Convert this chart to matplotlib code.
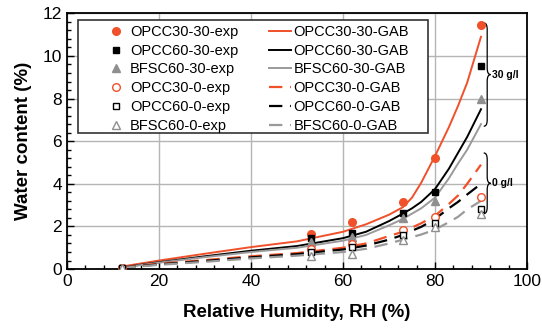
import matplotlib
matplotlib.use('Agg')
import matplotlib.pyplot as plt
from matplotlib.path import Path
from matplotlib.patches import PathPatch, Rectangle
from matplotlib.ticker import MultipleLocator

plt.rcParams['font.family'] = ['Liberation Sans', 'DejaVu Sans']

# measured points (RH %, water content %)
rh_exp = [12, 53, 62, 73, 80, 90]
opcc30_30_exp = [0.05, 1.63, 2.22, 3.13, 5.2, 11.45]
opcc60_30_exp = [0.05, 1.44, 1.67, 2.64, 3.6, 9.53]
bfsc60_30_exp = [0.05, 1.28, 1.49, 2.41, 3.2, 8.0]
opcc30_0_exp = [0.05, 0.94, 1.17, 1.83, 2.43, 3.4]
opcc60_0_exp = [0.05, 0.81, 1.02, 1.6, 2.14, 2.82]
bfsc60_0_exp = [0.05, 0.61, 0.70, 1.35, 1.99, 2.6]

# GAB model curves
rh_gab = [12, 20, 30, 40, 50, 60, 65, 70, 73, 75, 77, 80, 83, 85, 87, 90]
opcc30_30_gab = [0.12, 0.40, 0.72, 1.03, 1.30, 1.75, 2.1, 2.55, 2.9, 3.35, 4.05, 5.3, 6.65, 7.65, 8.75, 10.9]
opcc60_30_gab = [0.08, 0.32, 0.60, 0.86, 1.08, 1.45, 1.75, 2.25, 2.6, 2.85, 3.15, 3.75, 4.7, 5.45, 6.2, 7.5]
bfsc60_30_gab = [0.07, 0.30, 0.56, 0.80, 1.00, 1.33, 1.6, 2.05, 2.35, 2.6, 2.85, 3.35, 4.25, 4.95, 5.6, 6.8]
opcc30_0_gab = [0.08, 0.25, 0.42, 0.60, 0.75, 1.0, 1.2, 1.55, 1.75, 1.95, 2.15, 2.5, 3.05, 3.45, 4.0, 4.9]
opcc60_0_gab = [0.07, 0.22, 0.38, 0.55, 0.70, 0.92, 1.1, 1.38, 1.6, 1.8, 1.98, 2.35, 2.85, 3.15, 3.5, 4.0]
bfsc60_0_gab = [0.06, 0.20, 0.34, 0.50, 0.63, 0.80, 0.95, 1.2, 1.38, 1.5, 1.62, 1.85, 2.2, 2.45, 2.8, 3.2]

orange = '#f0502a'
grey = '#8f8f8f'
grey_line = '#9a9a9a'

fig = plt.figure(figsize=(5.42, 3.33), dpi=100)
ax = fig.add_axes([0.1236, 0.192, 0.8487, 0.768])

ms = 5.5
h = []
h += ax.plot(rh_exp, opcc30_30_exp, 'o', color=orange, ms=ms, label='OPCC30-30-exp', zorder=5)
h += ax.plot(rh_exp, opcc60_30_exp, 's', color='black', ms=ms - 0.5, label='OPCC60-30-exp', zorder=5)
h += ax.plot(rh_exp, bfsc60_30_exp, '^', color=grey, ms=ms, label='BFSC60-30-exp', zorder=5)
h += ax.plot(rh_exp, opcc30_0_exp, 'o', mfc='white', mec=orange, mew=1, ms=ms, label='OPCC30-0-exp', zorder=5)
h += ax.plot(rh_exp, opcc60_0_exp, 's', mfc='white', mec='black', mew=1, ms=ms - 0.5, label='OPCC60-0-exp', zorder=5)
h += ax.plot(rh_exp, bfsc60_0_exp, '^', mfc='white', mec=grey, mew=1, ms=ms, label='BFSC60-0-exp', zorder=5)

lw = 1.4
h += ax.plot(rh_gab, opcc30_30_gab, '-', color=orange, lw=lw, label='OPCC30-30-GAB')
h += ax.plot(rh_gab, opcc60_30_gab, '-', color='black', lw=lw, label='OPCC60-30-GAB')
h += ax.plot(rh_gab, bfsc60_30_gab, '-', color=grey_line, lw=lw, label='BFSC60-30-GAB')
dash = [6, 3.5]
h += ax.plot(rh_gab, opcc30_0_gab, '--', color=orange, lw=1.6, dashes=dash, label='OPCC30-0-GAB')
h += ax.plot(rh_gab, opcc60_0_gab, '--', color='black', lw=1.6, dashes=dash, label='OPCC60-0-GAB')
h += ax.plot(rh_gab, bfsc60_0_gab, '--', color=grey_line, lw=1.6, dashes=dash, label='BFSC60-0-GAB')

ax.set_xlim(0, 100)
ax.set_ylim(0, 12)
ax.xaxis.set_major_locator(MultipleLocator(20))
ax.xaxis.set_minor_locator(MultipleLocator(4))
ax.yaxis.set_major_locator(MultipleLocator(2))
ax.yaxis.set_minor_locator(MultipleLocator(0.4))
ax.tick_params(which='both', direction='in', labelsize=12.5, top=False, right=False)
ax.tick_params(which='major', length=5, width=1)
ax.tick_params(which='minor', length=3, width=1)
ax.grid(True, which='major', color='#b5b5b5', lw=1)
ax.set_axisbelow(True)
for s in ax.spines.values():
    s.set_linewidth(1.3)

ax.set_xlabel('Relative Humidity, RH (%)', fontsize=13.5, fontweight='bold', labelpad=11)
ax.set_ylabel('Water content (%)', fontsize=13.5, fontweight='bold', labelpad=8)

# legend box drawn separately so the entries can sit off-centre inside it
ax.add_patch(Rectangle((0.024, 0.532), 0.761, 0.442, transform=ax.transAxes,
                       fc='white', ec='#333333', lw=1.2, zorder=6))
leg = ax.legend(handles=h, ncol=2, loc='upper left', bbox_to_anchor=(0.083, 0.955),
                fontsize=10.5, frameon=False, handlelength=1.5, handletextpad=0.2,
                labelspacing=0.33, columnspacing=2.1, borderpad=0, borderaxespad=0)
leg.set_zorder(7)


def brace(x0, y1, y2, w=1.5, d=0.3):
    # curly brace opening to the left, tip pointing right
    xm = x0 + w * 0.5
    xt = x0 + w
    ym = (y1 + y2) / 2
    verts = [(x0, y2), (xm, y2), (xm, y2 - d),
             (xm, ym + d),
             (xm, ym), (xt, ym),
             (xm, ym), (xm, ym - d),
             (xm, y1 + d),
             (xm, y1), (x0, y1)]
    codes = [Path.MOVETO, Path.CURVE3, Path.CURVE3,
             Path.LINETO,
             Path.CURVE3, Path.CURVE3,
             Path.CURVE3, Path.CURVE3,
             Path.LINETO,
             Path.CURVE3, Path.CURVE3]
    ax.add_patch(PathPatch(Path(verts, codes), fc='none', ec='black', lw=0.9, clip_on=False))
    return xt, ym


xt, ym = brace(90.6, 6.7, 11.55)
ax.text(xt + 0.3, ym, '30 g/l', fontsize=7.5, fontweight='bold', va='center', ha='left')
xt, ym = brace(90.6, 2.6, 5.45)
ax.text(xt + 0.3, ym, '0 g/l', fontsize=7.5, fontweight='bold', va='center', ha='left')

fig.savefig('out.png', dpi=100)
